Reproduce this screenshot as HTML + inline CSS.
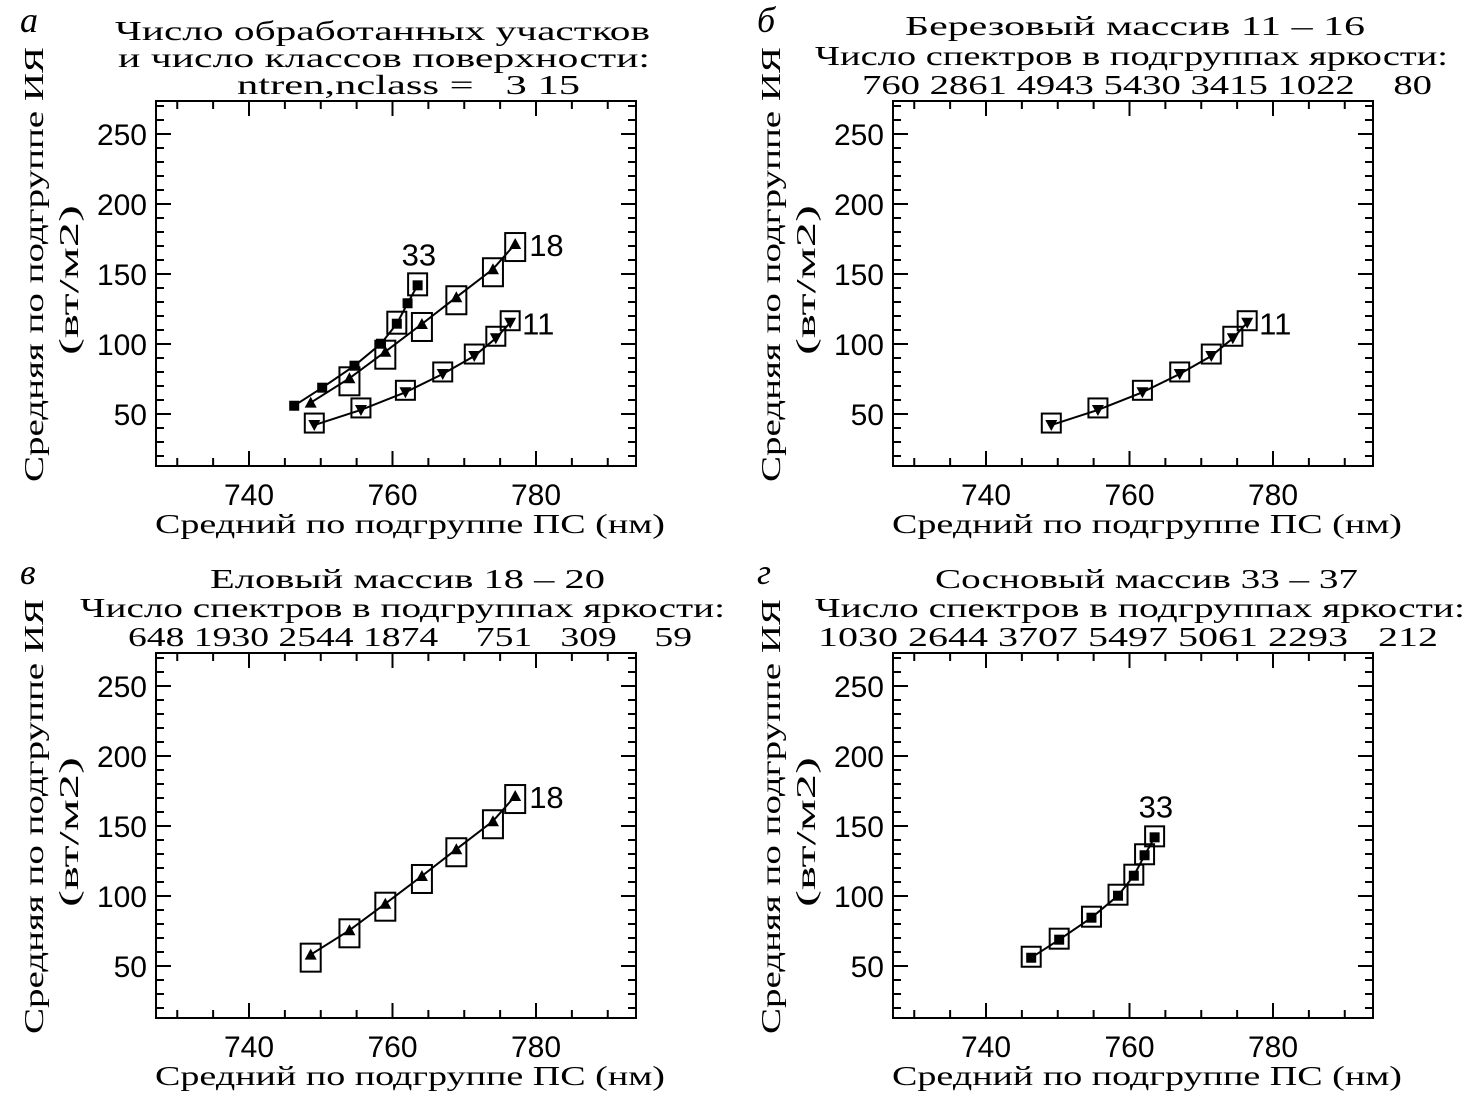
<!DOCTYPE html>
<html><head><meta charset="utf-8">
<style>
html,body{margin:0;padding:0;background:#fff;}
svg{display:block;}
text{fill:#000;white-space:pre;}
.t{font-family:"Liberation Serif",serif;font-size:27px;}
.n{font-family:"Liberation Sans",sans-serif;font-size:30px;}
.l{font-family:"Liberation Serif",serif;font-style:italic;font-size:36px;}
</style></head>
<body>
<svg id="fig" width="1476" height="1109" viewBox="0 0 1476 1109" xmlns="http://www.w3.org/2000/svg"></svg>
<script>
// data
const xTicks = [740, 760, 780];
const yTicks = [50, 100, 150, 200, 250];
const s11x = [749.1, 755.6, 761.8, 767.0, 771.4, 774.4, 776.4];
const s11y = [42.1, 52.9, 65.5, 78.6, 91.4, 104.1, 115.2];
const s18x = [748.6, 754.0, 759.0, 764.1, 768.9, 774.0, 777.1];
const s18y = [58.1, 75.5, 94.5, 114.3, 133.4, 153.4, 171.4];
const s33x = [746.3, 750.2, 754.7, 758.4, 760.6, 762.1, 763.5];
const s33y = [55.9, 68.8, 84.5, 100.2, 114.5, 129.1, 141.9];
const boxA11 = [1,1,1,1,1,1,1];
const boxA18 = [0,1,1,1,1,1,1];
const boxA33 = [0,0,0,0,1,0,1];
const boxAll = [1,1,1,1,1,1,1];
const titleA = ["Число обработанных участков","и число классов поверхности:","ntren,nclass =   3 15"];
const titleB = ["Березовый массив 11 – 16","Число спектров в подгруппах яркости:","760 2861 4943 5430 3415 1022    80"];
const titleC = ["Еловый массив 18 – 20","Число спектров в подгруппах яркости:","648 1930 2544 1874    751   309    59"];
const titleD = ["Сосновый массив 33 – 37","Число спектров в подгруппах яркости:","1030 2644 3707 5497 5061 2293   212"];

const NS = "http://www.w3.org/2000/svg";
const svg = document.getElementById('fig');
function mk(tag, attrs, parent, txt){
  const e = document.createElementNS(NS, tag);
  for (const k in attrs) e.setAttribute(k, attrs[k]);
  if (txt !== undefined) e.textContent = txt;
  (parent||svg).appendChild(e);
  return e;
}
const L=156, R=636, T=101, B=466;
function xs(v){ return 249 + (v-740)*7.175; }
function ys(v){ return 414 - (v-50)*1.4; }

function panel(ox, oy, name, letter, title, tspans, series){
  const g = mk('g', {transform:`translate(${ox},${oy})`});
  
  
  const lt = mk('text', {x:20, y:32, class:'l'}, g, letter);
  
  
  const tg = mk('g', {}, g);
  
  
  title.forEach((s,i)=>{
    const sp = tspans[i];
    mk('text', {x:sp[0], y:sp[2], class:'t', textLength:sp[1]-sp[0], lengthAdjust:'spacingAndGlyphs'}, tg, s);
  });
  const box = mk('rect', {x:L, y:T, width:R-L, height:B-T, fill:'none', stroke:'#000', 'stroke-width':2}, g);
  
  
  const tk = mk('g', {stroke:'#000','stroke-width':2}, g);
  
  
  for (let v=730; v<=790; v+=5){
    const x = xs(v); const len = (v%20===0)?15:8;
    mk('line',{x1:x,y1:B,x2:x,y2:B-len},tk);
    mk('line',{x1:x,y1:T,x2:x,y2:T+len},tk);
  }
  for (let v=20; v<=270; v+=10){
    const y = ys(v); const len = (v%50===0)?15:8;
    mk('line',{x1:L,y1:y,x2:L+len,y2:y},tk);
    mk('line',{x1:R,y1:y,x2:R-len,y2:y},tk);
  }
  xTicks.forEach(v=>{
    const t = mk('text',{x:xs(v), y:505, class:'n','text-anchor':'middle'}, g, String(v));
    
    
  });
  yTicks.forEach(v=>{
    const t = mk('text',{x:147, y:ys(v)+11, class:'n','text-anchor':'end'}, g, String(v));
    
    
  });
  const xl = mk('text',{x:155, y:533, class:'t', textLength:510, lengthAdjust:'spacingAndGlyphs'}, g, 'Средний по подгруппе ПС (нм)');
  
  
  const yl = mk('text',{x:0, y:0, class:'t', transform:'translate(43,482) rotate(-90)', textLength:435, lengthAdjust:'spacingAndGlyphs'}, g, 'Средняя по подгруппе ИЯ');
  
  
  const yl2 = mk('text',{x:0, y:0, class:'t', transform:'translate(78,355) rotate(-90)', textLength:150, lengthAdjust:'spacingAndGlyphs'}, g, '(вт/м2)');
  
  

  series.forEach(s=>{
    const sg = mk('g',{},g);
    
    
    const pts = s.x.map((v,i)=>xs(v).toFixed(1)+','+ys(s.y[i]).toFixed(1)).join(' ');
    const pl = mk('polyline',{points:pts, fill:'none', stroke:'#000','stroke-width':2}, sg);
    
    
    s.x.forEach((v,i)=>{
      const cx = xs(v), cy = ys(s.y[i]);
      if (s.boxes[i]){
        const b = mk('rect',{x:cx-s.bw/2, y:cy-s.bh/2+s.bdy, width:s.bw, height:s.bh, fill:'none', stroke:'#000','stroke-width':2}, sg);
        
        
      }
      let m;
      if (s.kind==='sq') m = mk('rect',{x:cx-5, y:cy-5, width:10, height:10, fill:'#000'}, sg);
      else if (s.kind==='up') m = mk('polygon',{points:`${cx-6},${cy+5} ${cx+6},${cy+5} ${cx},${cy-6}`, fill:'#000'}, sg);
      else m = mk('polygon',{points:`${cx-6},${cy-5} ${cx+6},${cy-5} ${cx},${cy+6}`, fill:'#000'}, sg);
      
      
    });
    const lb = mk('text',{x:s.lx, y:s.ly, class:'n', style:'font-size:31px'}, sg, s.label);
    
    
  });
}
const n = s11x.length-1;
const s11 = (bx)=>({label:'11', kind:'down', x:s11x, y:s11y, boxes:bx, bw:19, bh:19, bdy:-2, lx:xs(s11x[n])+12, ly:ys(s11y[n])+12});
const s18 = (bx)=>({label:'18', kind:'up', x:s18x, y:s18y, boxes:bx, bw:20, bh:28, bdy:3, lx:xs(s18x[n])+14, ly:ys(s18y[n])+12});
const s33 = (bx,bh)=>({label:'33', kind:'sq', x:s33x, y:s33y, boxes:bx, bw:19, bh:bh, bdy:-1, lx:xs(s33x[n])-16, ly:ys(s33y[n])-20});

panel(0,0,'panel-a','а',titleA,[[115,650,40],[118,650,67],[237,580,94]],[s11(boxA11),s18(boxA18),s33(boxA33,22)]);
panel(737,0,'panel-b','б',titleB,[[168,628,35],[78,711,65],[125,695,94]],[s11(boxAll)]);
panel(0,552,'panel-c','в',titleC,[[210,605,36],[80,725,65],[128,692,94]],[s18(boxAll)]);
panel(737,552,'panel-d','г',titleD,[[198,621,36],[78,728,65],[81,701,94]],[s33(boxAll,20)]);
</script>
</body></html>
